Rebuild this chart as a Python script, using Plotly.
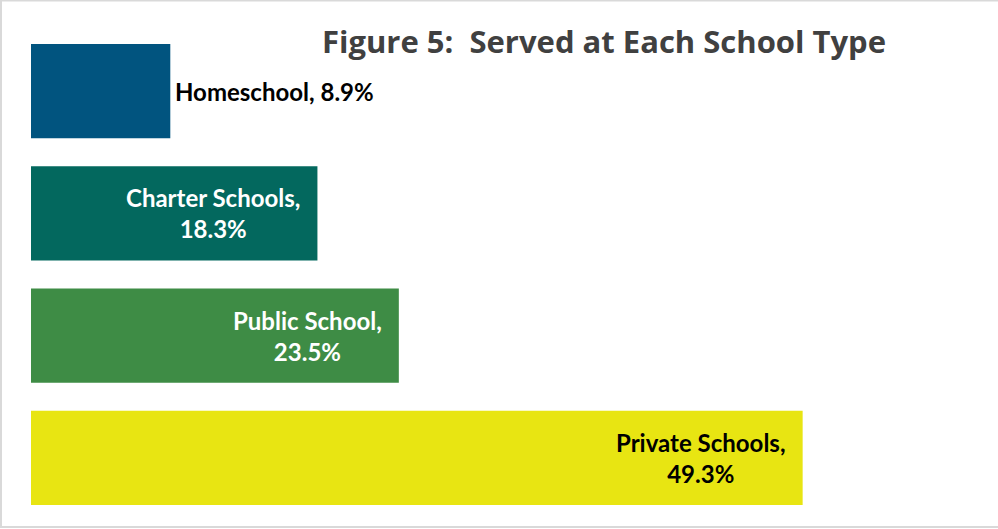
import plotly.graph_objects as go

# School types and share of students served (%)
categories = ["Homeschool", "Charter Schools", "Public School", "Private Schools"]
values = [8.9, 18.3, 23.5, 49.3]
colors = ["#01547F", "#03685E", "#3E8C45", "#E8E512"]
label_colors = ["#000000", "#FFFFFF", "#FFFFFF", "#000000"]

W, H = 998, 529
ML, MR, MT, MB = 31, 31, 30, 10
plot_w = W - ML - MR
plot_h = H - MT - MB
x_max = 59.8

fig = go.Figure(
    go.Bar(
        y=categories,
        x=values,
        orientation="h",
        marker=dict(color=colors, line=dict(width=0)),
        width=0.77,
        hoverinfo="skip",
    )
)

label_font = "Lato, 'DejaVu Sans', sans-serif"
annotations = []
for i, (cat, val) in enumerate(zip(categories, values)):
    if val < 10:
        # short bar: label sits just outside the bar end on one line
        annotations.append(dict(
            x=val, y=cat, xref="x", yref="y",
            text=f"<b>{cat}, {val:.1f}%</b>",
            showarrow=False, xanchor="left", xshift=3,
            font=dict(family=label_font, size=24, color=label_colors[i]),
        ))
    else:
        annotations.append(dict(
            x=val, y=cat, xref="x", yref="y",
            text=f"<b>{cat},</b><br><b>{val:.1f}%</b>",
            showarrow=False, xanchor="right", xshift=-15, align="center",
            font=dict(family=label_font, size=24, color=label_colors[i]),
        ))

annotations.append(dict(
    x=(604 - ML) / plot_w, y=(H - MB - 41) / plot_h,
    xref="paper", yref="paper",
    text="<b>Figure 5:  Served at Each School Type</b>",
    showarrow=False, xanchor="center", yanchor="middle",
    font=dict(family="'Open Sans', sans-serif", size=31, color="#404040"),
))

# thin grey frame around the chart area
def px_x(p):
    return (p - ML) / plot_w

def px_y(p):
    return (H - MB - p) / plot_h

shapes = [dict(
    type="rect", xref="paper", yref="paper",
    x0=px_x(1), x1=px_x(1005), y0=px_y(527), y1=px_y(0.5),
    line=dict(color="#D9D9D9", width=2), fillcolor="rgba(0,0,0,0)",
    layer="below",
)]

fig.update_layout(
    width=W, height=H,
    margin=dict(l=ML, r=MR, t=MT, b=MB, pad=0),
    paper_bgcolor="white", plot_bgcolor="white",
    showlegend=False,
    xaxis=dict(range=[0, x_max], visible=False, fixedrange=True),
    yaxis=dict(autorange="reversed", visible=False, fixedrange=True,
               range=[3.5, -0.5]),
    annotations=annotations,
    shapes=shapes,
)

fig.write_html("out.html", config={"displayModeBar": False})
